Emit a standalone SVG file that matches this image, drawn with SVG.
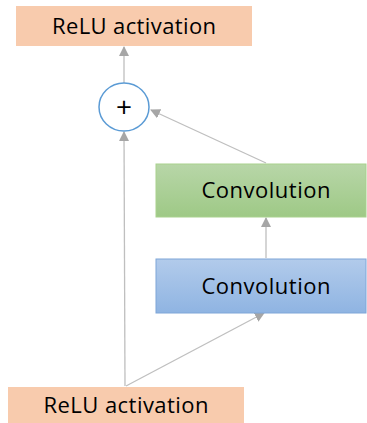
<svg xmlns="http://www.w3.org/2000/svg" width="367" height="423" viewBox="0 0 367 423">
<defs>
<linearGradient id="gGreen" x1="0" y1="0" x2="0" y2="1"><stop offset="0" stop-color="#b8d6a8"/><stop offset="1" stop-color="#9ec986"/></linearGradient>
<linearGradient id="gBlue" x1="0" y1="0" x2="0" y2="1"><stop offset="0" stop-color="#b2cbeb"/><stop offset="1" stop-color="#8fb4e2"/></linearGradient>
<marker id="arr" markerWidth="10" markerHeight="10" refX="9" refY="5" orient="auto" markerUnits="userSpaceOnUse"><path d="M0,0 L10,5 L0,10 z" fill="#a6a6a6"/></marker>
<style>
text{font-family:"Open Sans","Noto Sans",sans-serif;font-size:22px;fill:#000;text-anchor:middle}
text.plus{font-size:28px}
.relu{fill:#f8cbad}
.c{stroke:#bfbfbf;stroke-width:1.3;fill:none}
</style>
</defs>
<g id="connectors">
<line class="c" x1="124" y1="83" x2="124" y2="47" marker-end="url(#arr)"/>
<line class="c" x1="125" y1="386" x2="124" y2="132" marker-end="url(#arr)"/>
<line class="c" x1="266" y1="163" x2="151" y2="110" marker-end="url(#arr)"/>
<line class="c" x1="266" y1="258" x2="266" y2="218" marker-end="url(#arr)"/>
<line class="c" x1="126" y1="386" x2="264" y2="313" marker-end="url(#arr)"/>
</g>
<g id="relu_top"><rect class="relu" x="16" y="6" width="236" height="40"/><text x="134" y="34" textLength="164">ReLU activation</text></g>
<g id="add"><ellipse cx="124" cy="107" rx="25" ry="24" fill="#fff" stroke="#5b9bd5" stroke-width="1.5"/><text class="plus" x="124" y="117">+</text></g>
<g id="conv2"><rect x="156" y="164" width="210" height="53" fill="url(#gGreen)" stroke="#a9d18e" stroke-width="1"/><text x="266" y="198" textLength="129">Convolution</text></g>
<g id="conv1"><rect x="156" y="259" width="210" height="54" fill="url(#gBlue)" stroke="#7ea6d8" stroke-width="1"/><text x="266" y="294" textLength="129">Convolution</text></g>
<g id="relu_bottom"><rect class="relu" x="8" y="387" width="236" height="40"/><text x="126" y="413" textLength="165">ReLU activation</text></g>
</svg>
